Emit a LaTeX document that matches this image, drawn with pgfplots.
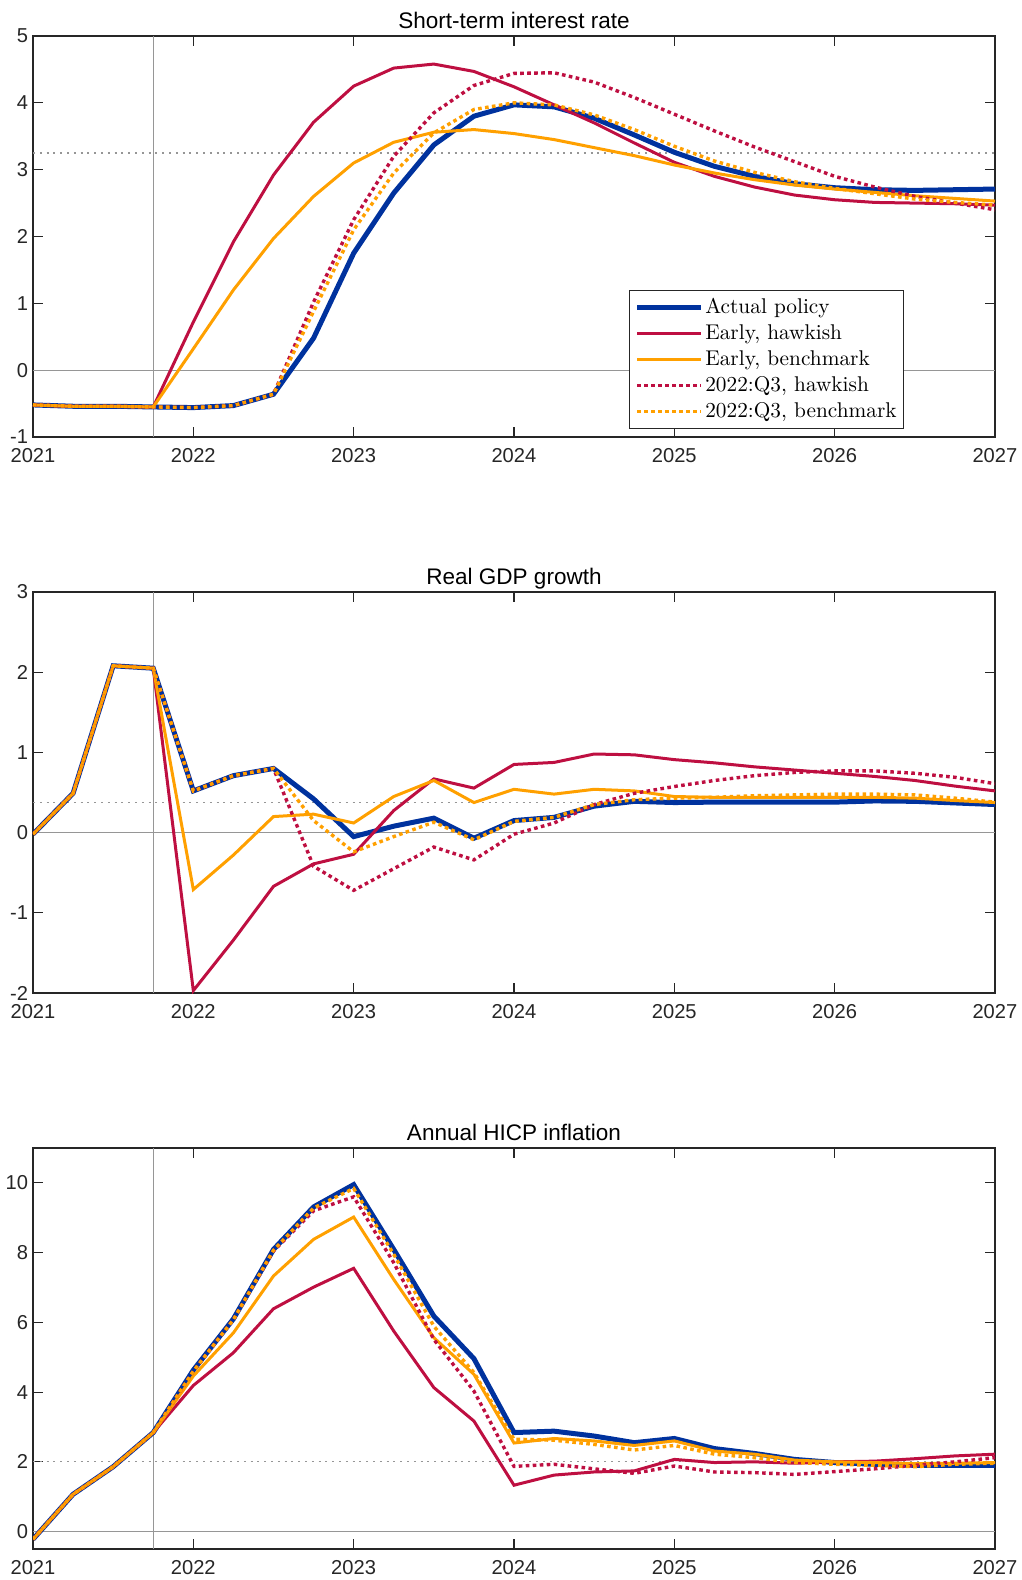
\documentclass[border=0pt]{standalone}
\usepackage{pgfplots}
\usepackage{pgfplotstable}
\pgfplotsset{compat=1.18}
\usepackage{fontspec}
\setsansfont{Liberation Sans}

\definecolor{ecbblue}{RGB}{0,50,158}
\definecolor{ecbred}{RGB}{190,15,65}
\definecolor{ecborange}{RGB}{255,160,0}
\definecolor{axgray}{RGB}{38,38,38}
\definecolor{refgray}{RGB}{150,150,150}

\pgfplotstableread{
x act eh eb qh qb
2021.00 -0.52 -0.52 -0.52 -0.52 -0.52
2021.25 -0.54 -0.54 -0.54 -0.54 -0.54
2021.50 -0.54 -0.54 -0.54 -0.54 -0.54
2021.75 -0.55 -0.55 -0.55 -0.55 -0.55
2022.00 -0.56 0.72 0.32 -0.56 -0.56
2022.25 -0.53 1.92 1.20 -0.53 -0.53
2022.50 -0.36 2.92 1.97 -0.36 -0.36
2022.75 0.48 3.71 2.60 1.02 0.88
2023.00 1.75 4.25 3.10 2.25 2.10
2023.25 2.65 4.52 3.41 3.20 2.95
2023.50 3.37 4.58 3.56 3.85 3.55
2023.75 3.80 4.47 3.60 4.26 3.90
2024.00 3.97 4.24 3.54 4.44 4.00
2024.25 3.94 3.97 3.45 4.45 3.97
2024.50 3.77 3.70 3.33 4.31 3.82
2024.75 3.52 3.40 3.21 4.08 3.60
2025.00 3.26 3.11 3.07 3.83 3.35
2025.25 3.05 2.90 2.95 3.58 3.13
2025.50 2.90 2.74 2.85 3.34 2.96
2025.75 2.79 2.62 2.77 3.12 2.82
2026.00 2.73 2.55 2.71 2.90 2.72
2026.25 2.70 2.51 2.66 2.74 2.64
2026.50 2.69 2.50 2.61 2.60 2.56
2026.75 2.70 2.49 2.57 2.50 2.51
2027.00 2.71 2.47 2.53 2.40 2.47
}\tabrate

\pgfplotstableread{
x act eh eb qh qb
2021.00 -0.02 -0.02 -0.02 -0.02 -0.02
2021.25 0.49 0.49 0.49 0.49 0.49
2021.50 2.08 2.08 2.08 2.08 2.08
2021.75 2.05 2.05 2.05 2.05 2.05
2022.00 0.52 -1.97 -0.71 0.52 0.52
2022.25 0.71 -1.34 -0.28 0.71 0.71
2022.50 0.80 -0.67 0.20 0.80 0.80
2022.75 0.42 -0.39 0.23 -0.42 0.15
2023.00 -0.05 -0.27 0.12 -0.72 -0.24
2023.25 0.08 0.275 0.45 -0.45 -0.05
2023.50 0.18 0.67 0.65 -0.18 0.13
2023.75 -0.07 0.555 0.375 -0.34 -0.09
2024.00 0.15 0.85 0.54 -0.02 0.14
2024.25 0.19 0.875 0.48 0.12 0.19
2024.50 0.33 0.98 0.54 0.35 0.35
2024.75 0.39 0.97 0.52 0.49 0.41
2025.00 0.375 0.91 0.45 0.575 0.43
2025.25 0.38 0.87 0.44 0.65 0.44
2025.50 0.38 0.82 0.44 0.71 0.46
2025.75 0.38 0.78 0.44 0.75 0.47
2026.00 0.38 0.74 0.44 0.77 0.48
2026.25 0.395 0.70 0.44 0.77 0.48
2026.50 0.39 0.65 0.43 0.74 0.47
2026.75 0.37 0.58 0.40 0.69 0.43
2027.00 0.35 0.52 0.375 0.61 0.38
}\tabgdp

\pgfplotstableread{
x act eh eb qh qb
2021.00 -0.22 -0.22 -0.22 -0.22 -0.22
2021.25 1.07 1.07 1.07 1.07 1.07
2021.50 1.86 1.86 1.86 1.86 1.86
2021.75 2.84 2.84 2.84 2.84 2.84
2022.00 4.63 4.19 4.46 4.60 4.60
2022.25 6.10 5.13 5.70 6.08 6.08
2022.50 8.09 6.39 7.33 8.05 8.07
2022.75 9.31 7.01 8.38 9.20 9.28
2023.00 9.95 7.55 9.02 9.60 9.84
2023.25 8.09 5.75 7.23 7.71 7.95
2023.50 6.18 4.13 5.56 5.51 5.89
2023.75 4.96 3.17 4.51 4.03 4.56
2024.00 2.84 1.33 2.54 1.87 2.65
2024.25 2.88 1.62 2.67 1.93 2.62
2024.50 2.74 1.71 2.60 1.80 2.50
2024.75 2.55 1.74 2.47 1.67 2.34
2025.00 2.67 2.07 2.60 1.88 2.47
2025.25 2.38 1.98 2.31 1.71 2.22
2025.50 2.24 2.00 2.22 1.69 2.12
2025.75 2.07 1.96 2.05 1.64 1.98
2026.00 1.98 2.00 2.00 1.72 1.93
2026.25 1.93 2.02 1.98 1.80 1.90
2026.50 1.90 2.09 1.95 1.90 1.86
2026.75 1.90 2.17 1.96 2.00 1.93
2027.00 1.90 2.22 1.98 2.12 1.96
}\tabhicp

\pgfplotsset{
  myax/.style={
    scale only axis, width=481bp, height=200.5bp,
    xmin=2021, xmax=2027, xtick={2021,2022,...,2027},
    scaled x ticks=false, scaled y ticks=false,
    tick align=inside, major tick length=5bp,
    axis line style={draw=axgray, line width=0.6bp},
    every tick/.style={draw=axgray, line width=0.6bp},
    tick label style={font=\fontsize{10.1}{11}\sffamily, text=axgray},
    /pgf/number format/assume math mode=true,
    /pgf/number format/1000 sep={},
    xticklabel style={yshift=-2bp},
    yticklabel style={xshift=1bp},
    title style={font=\fontsize{11.3}{13}\sffamily, at={(0.5,1)}, anchor=base, yshift=-2.2bp},
    legend image code/.code={\draw[##1] (0bp,0bp) -- (32bp,0bp);},
  },
  pact/.style={ecbblue, line width=2.5bp},
  peh/.style={ecbred, line width=1.5bp},
  peb/.style={ecborange, line width=1.5bp},
  pqh/.style={ecbred, line width=1.7bp, dash pattern=on 1.8bp off 1.7bp},
  pqb/.style={ecborange, line width=1.7bp, dash pattern=on 1.8bp off 1.7bp},
  pref/.style={refgray, line width=0.6bp, forget plot},
  pdot/.style={refgray, line width=0.6bp, dash pattern=on 1bp off 2.4bp, forget plot},
}

\begin{document}
\begin{tikzpicture}
\useasboundingbox (0bp,0bp) rectangle (511bp,-790bp);

% Panel 1
\begin{axis}[myax, at={(16.5bp,-218.5bp)}, ymin=-1, ymax=5, ytick={-1,0,...,5},
  title={Short-term interest rate},
  legend style={at={(0.9057,0.02)}, anchor=south east, draw=axgray, line width=0.6bp,
    font=\fontsize{10.7}{12.5}\selectfont, cells={anchor=west}, row sep=0bp,
    nodes={inner xsep=0.9bp},
    inner xsep=2.6bp, inner ysep=2bp}]
\addplot[pref] coordinates {(2021,0) (2027,0)};
\addplot[pref] coordinates {(2021.75,-1) (2021.75,5)};
\addplot[pdot] coordinates {(2021,3.25) (2027,3.25)};
\addplot[pact] table[x=x,y=act] {\tabrate};
\addplot[peh] table[x=x,y=eh] {\tabrate};
\addplot[peb] table[x=x,y=eb] {\tabrate};
\addplot[pqh] table[x=x,y=qh] {\tabrate};
\addplot[pqb] table[x=x,y=qb] {\tabrate};
\legend{Actual policy, {Early, hawkish}, {Early, benchmark}, {2022:Q3, hawkish}, {2022:Q3, benchmark}}
\end{axis}

% Panel 2
\begin{axis}[myax, at={(16.5bp,-496.5bp)}, ymin=-2, ymax=3, ytick={-2,-1,...,3},
  title={Real GDP growth}]
\addplot[pref] coordinates {(2021,0) (2027,0)};
\addplot[pref] coordinates {(2021.75,-2) (2021.75,3)};
\addplot[pdot] coordinates {(2021,0.375) (2027,0.375)};
\addplot[pact] table[x=x,y=act] {\tabgdp};
\addplot[peh] table[x=x,y=eh] {\tabgdp};
\addplot[peb] table[x=x,y=eb] {\tabgdp};
\addplot[pqh] table[x=x,y=qh] {\tabgdp};
\addplot[pqb] table[x=x,y=qb] {\tabgdp};
\end{axis}

% Panel 3
\begin{axis}[myax, at={(16.5bp,-774.5bp)}, ymin=-0.5, ymax=11, ytick={0,2,...,10},
  title={Annual HICP inflation}]
\addplot[pref] coordinates {(2021,0) (2027,0)};
\addplot[pref] coordinates {(2021.75,-0.5) (2021.75,11)};
\addplot[pdot] coordinates {(2021,2) (2027,2)};
\addplot[pact] table[x=x,y=act] {\tabhicp};
\addplot[peh] table[x=x,y=eh] {\tabhicp};
\addplot[peb] table[x=x,y=eb] {\tabhicp};
\addplot[pqh] table[x=x,y=qh] {\tabhicp};
\addplot[pqb] table[x=x,y=qb] {\tabhicp};
\end{axis}
\end{tikzpicture}
\end{document}
